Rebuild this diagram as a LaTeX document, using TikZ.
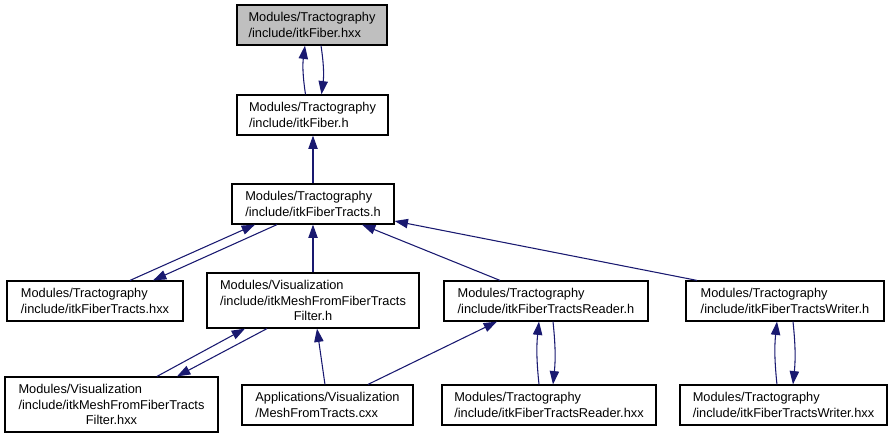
\documentclass[tikz,border=0pt]{standalone}
\usepackage{fontspec}
\setmainfont{Liberation Sans}
\usepackage{calc}
\usetikzlibrary{arrows.meta}
\definecolor{edgeBlue}{HTML}{191970}
\definecolor{rootGrey}{HTML}{BFBFBF}

\begin{document}
\begin{tikzpicture}[
		x=0.75pt, y=-0.75pt,
		% cajas de fichero: texto alineado a la izquierda, tamano fijo en px
		fileNode/.style={draw=black, line width=0.9pt, fill=white, align=left,
			inner sep=0pt, font=\fontsize{9.6}{11.4}\selectfont},
		rootNode/.style={fileNode, fill=rootGrey},
		boxSize/.style 2 args={minimum width=#1*0.75pt, minimum height=#2*0.75pt},
		depEdge/.style={edgeBlue, line width=0.8pt, -{Triangle[length=10pt, width=7pt]}}
	]
	\useasboundingbox (0,0) rectangle (896,439);

	% --- 1. Nodos ---
	\node[rootNode, boxSize={150}{40}] (fhxx) at (312, 25)
		{Modules/Tractography\\/include/itkFiber.hxx};
	\node[fileNode, boxSize={151}{40}] (fh) at (312.5, 115)
		{Modules/Tractography\\/include/itkFiber.h};
	\node[fileNode, boxSize={162}{40}] (fth) at (313, 204)
		{Modules/Tractography\\/include/itkFiberTracts.h};

	\node[fileNode, boxSize={176}{40}] (fthxx) at (95, 301)
		{Modules/Tractography\\/include/itkFiberTracts.hxx};
	\node[fileNode, boxSize={212}{55}] (mfh) at (313, 300.5)
		{Modules/Visualization\\/include/itkMeshFromFiberTracts\\
		\makebox[\widthof{/include/itkMeshFromFiberTracts}]{Filter.h}};
	\node[fileNode, boxSize={204}{40}] (rh) at (546, 301)
		{Modules/Tractography\\/include/itkFiberTractsReader.h};
	\node[fileNode, boxSize={198}{40}] (wh) at (785, 301)
		{Modules/Tractography\\/include/itkFiberTractsWriter.h};

	\node[fileNode, boxSize={213}{55}] (mfhxx) at (111.5, 404.5)
		{Modules/Visualization\\/include/itkMeshFromFiberTracts\\
		\makebox[\widthof{/include/itkMeshFromFiberTracts}]{Filter.hxx}};
	\node[fileNode, boxSize={171}{40}] (mtc) at (327.5, 405)
		{Applications/Visualization\\/MeshFromTracts.cxx};
	\node[fileNode, boxSize={214}{40}] (rhxx) at (549, 405)
		{Modules/Tractography\\/include/itkFiberTractsReader.hxx};
	\node[fileNode, boxSize={207}{40}] (whxx) at (783.5, 405)
		{Modules/Tractography\\/include/itkFiberTractsWriter.hxx};

	% --- 2. Dependencias superiores ---
	\draw[depEdge] ([xshift=-5.25pt]fh.north) to[bend left=8] ([xshift=-5.25pt]fhxx.south);
	\draw[depEdge] ([xshift=6.75pt]fhxx.south) to[bend left=8] ([xshift=6.75pt]fh.north);
	\draw[depEdge] (fth.north) -- (fth.north |- fh.south);

	% --- 3. Dependencias hacia itkFiberTracts.h ---
	\draw[depEdge] ([xshift=26.25pt]fthxx.north) -- ([xshift=-43.5pt]fth.south);
	\draw[depEdge] ([xshift=-27pt]fth.south) -- ([xshift=43.5pt]fthxx.north);
	\draw[depEdge] (mfh.north) -- (mfh.north |- fth.south);
	\draw[depEdge] ([xshift=-34.5pt]rh.north) -- ([xshift=36.75pt]fth.south);
	\draw[depEdge] ([xshift=-66pt]wh.north) -- ([yshift=-12.75pt]fth.east);

	% --- 4. Dependencias inferiores ---
	\draw[depEdge] ([xshift=34.1pt]mfhxx.north) -- ([xshift=-51pt]mfh.south);
	\draw[depEdge] ([xshift=-34.5pt]mfh.south) -- ([xshift=49.1pt]mfhxx.north);
	\draw[depEdge] ([xshift=-1.9pt]mtc.north) -- ([xshift=3pt]mfh.south);
	\draw[depEdge] ([xshift=30.4pt]mtc.north) -- ([xshift=-36.75pt]rh.south);
	\draw[depEdge] ([xshift=-7.5pt]rhxx.north) to[bend left=6] ([xshift=-5.25pt]rh.south);
	\draw[depEdge] ([xshift=5.25pt]rh.south) to[bend left=6] ([xshift=3pt]rhxx.north);
	\draw[depEdge] ([xshift=-4.9pt]whxx.north) to[bend left=6] ([xshift=-6pt]wh.south);
	\draw[depEdge] ([xshift=6pt]wh.south) to[bend left=6] ([xshift=7.1pt]whxx.north);

\end{tikzpicture}
\end{document}
